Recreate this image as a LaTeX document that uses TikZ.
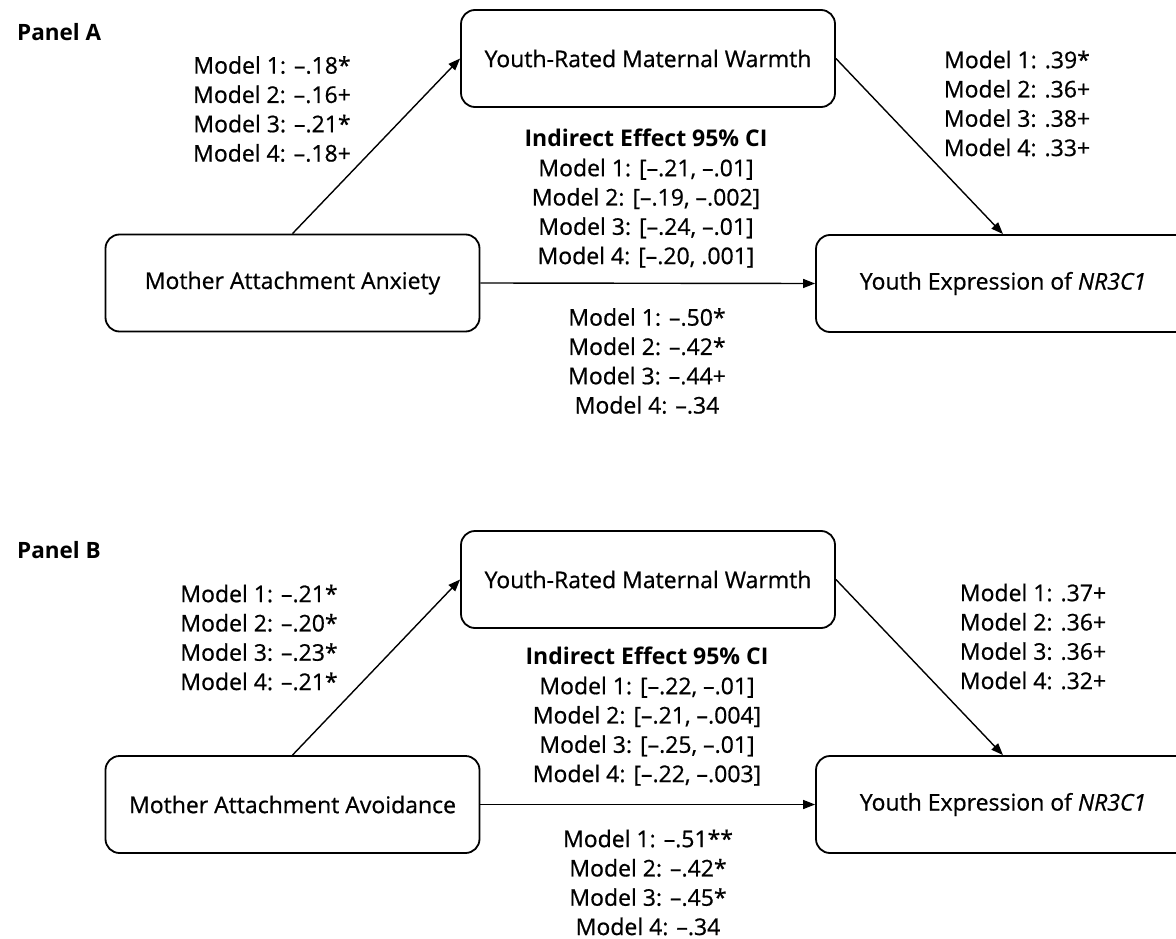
\documentclass[tikz,border=0pt]{standalone}
\usepackage{fontspec}
\setmainfont{Open Sans}[UprightFeatures={FakeBold=0.7}, ItalicFeatures={FakeBold=0.7}]
\usetikzlibrary{arrows.meta}
\begin{document}
\begin{tikzpicture}[x=1pt,y=-1pt,
  varbox/.style={draw=black, line width=1.8pt, rounded corners=14pt, minimum width=374pt, minimum height=97pt, inner sep=0pt, font=\fontsize{23}{29}\selectfont},
  lab/.style={align=center, inner sep=0pt, font=\fontsize{23}{29.3}\selectfont},
  panel/.style={anchor=west, inner sep=0pt, font=\fontsize{22.5}{25}\selectfont\bfseries},
  arr/.style={line width=1.4pt, -{Triangle[length=12pt,width=9pt]}}]
\useasboundingbox (0,0) rectangle (1176,939);
% ---------- Panel A ----------
\node[panel] (pA) at (17,32) {Panel A};
\node[varbox] (warmA) at (648,58.5) {Youth-Rated Maternal Warmth};
\node[varbox] (anxA) at (292.5,283) {Mother Attachment Anxiety};
\node[varbox] (exprA) at (1003,283.5) {Youth Expression of \textit{NR3C1}};
\draw[arr] (anxA.north) -- (warmA.west);
\draw[arr] (warmA.east) -- (exprA.north);
\draw[arr] (anxA.east) -- (exprA.west);
\node[lab] (aA) at (272,109) {Model 1: –.18*\\Model 2: –.16+\\Model 3: –.21*\\Model 4: –.18+};
\node[lab] (bA) at (1017,103.5) {Model 1: .39*\\Model 2: .36+\\Model 3: .38+\\Model 4: .33+};
\node[lab] (iA) at (646,198.5) {\textbf{Indirect Effect 95\% CI}\\Model 1: [–.21, –.01]\\Model 2: [–.19, –.002]\\Model 3: [–.24, –.01]\\Model 4: [–.20, .001]};
\node[lab] (cA) at (647,361) {Model 1: –.50*\\Model 2: –.42*\\Model 3: –.44+\\Model 4: –.34};
% ---------- Panel B ----------
\node[panel] (pB) at (17,550) {Panel B};
\node[varbox] (warmB) at (648,579.5) {Youth-Rated Maternal Warmth};
\node[varbox] (avoB) at (292.5,804.5) {Mother Attachment Avoidance};
\node[varbox] (exprB) at (1003,804.5) {Youth Expression of \textit{NR3C1}};
\draw[arr] (avoB.north) -- (warmB.west);
\draw[arr] (warmB.east) -- (exprB.north);
\draw[arr] (avoB.east) -- (exprB.west);
\node[lab] (aB) at (259,637.5) {Model 1: –.21*\\Model 2: –.20*\\Model 3: –.23*\\Model 4: –.21*};
\node[lab] (bB) at (1033,636.5) {Model 1: .37+\\Model 2: .36+\\Model 3: .36+\\Model 4: .32+};
\node[lab] (iB) at (647,716.5) {\textbf{Indirect Effect 95\% CI}\\Model 1: [–.22, –.01]\\Model 2: [–.21, –.004]\\Model 3: [–.25, –.01]\\Model 4: [–.22, –.003]};
\node[lab] (cB) at (648,882.5) {Model 1: –.51**\\Model 2: –.42*\\Model 3: –.45*\\Model 4: –.34};
\end{tikzpicture}
\end{document}
